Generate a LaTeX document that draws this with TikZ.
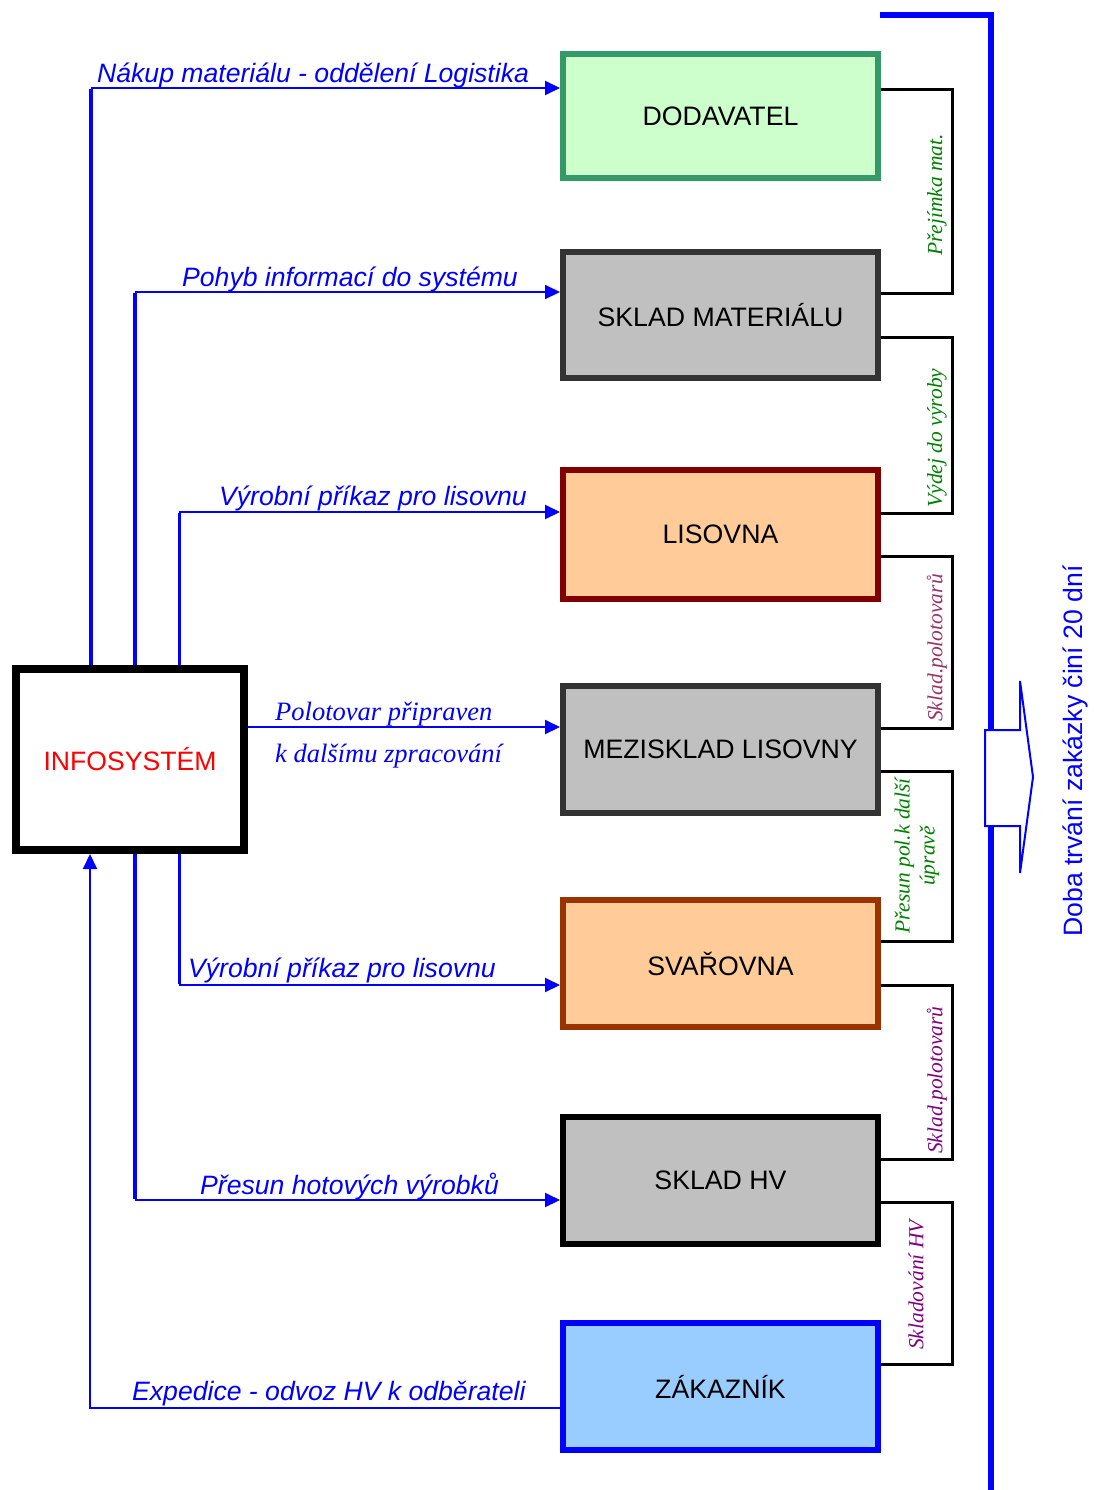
\documentclass[tikz,border=0pt]{standalone}
\usepackage{fontspec}
\setmainfont{Liberation Sans}
\newfontfamily\tms{Liberation Serif}
\usetikzlibrary{arrows.meta}
\definecolor{dgreen}{HTML}{339966}
\definecolor{lgreen}{HTML}{CCFFCC}
\definecolor{dgray}{HTML}{333333}
\definecolor{lgray}{HTML}{C0C0C0}
\definecolor{maroonb}{HTML}{800000}
\definecolor{peach}{HTML}{FFCC99}
\definecolor{brownb}{HTML}{993300}
\definecolor{lblue}{HTML}{99CCFF}
\definecolor{pblue}{HTML}{0000FF}
\definecolor{tgreen}{HTML}{008000}
\definecolor{plum}{HTML}{993366}
\definecolor{purp}{HTML}{800080}
\begin{document}
\begin{tikzpicture}[x=1pt,y=-1pt,
  box/.style={draw, line width=6pt, minimum width=315pt, inner sep=0pt,
    font=\fontsize{26.7}{32}\selectfont},
  vline/.style={draw=pblue, line width=4pt},
  harr/.style={draw=pblue, line width=2pt, -{Triangle[length=15pt,width=14pt]}},
  lab/.style={text=pblue, font=\fontsize{26.6}{32}\selectfont\itshape, inner sep=0pt, anchor=base west},
  tlab/.style={text=pblue, font=\fontsize{26.5}{32}\selectfont\tms\itshape, inner sep=0pt, anchor=base west},
  brk/.style={draw=black, line width=3pt, line join=miter},
  blab/.style={font=\fontsize{21.5}{25}\selectfont\tms\itshape, inner sep=0pt, rotate=90, align=center}
]
\useasboundingbox (0,0) rectangle (1093,1490);

% right column boxes
\node[box, draw=dgreen, fill=lgreen, minimum height=124pt] (dod) at (720.5,116) {DODAVATEL};
\node[box, draw=dgray, fill=lgray, minimum height=126pt] (sm) at (720.5,315) {SKLAD MATERIÁLU};
\node[box, draw=maroonb, fill=peach, minimum height=129pt] (lis) at (720.5,534.5) {LISOVNA};
\node[box, draw=dgray, fill=lgray, minimum height=127pt] (mez) at (720.5,749.5) {MEZISKLAD LISOVNY};
\node[box, draw=brownb, fill=peach, minimum height=127pt] (sva) at (720.5,963.5) {SVAŘOVNA};
\node[box, draw=black, fill=lgray, minimum height=127pt] (shv) at (720.5,1180.5) {SKLAD HV};
\node[box, draw=pblue, fill=lblue, minimum height=127pt] (zak) at (720.5,1386.5) {ZÁKAZNÍK};

% info system
\node[draw, line width=8pt, minimum width=228pt, minimum height=181pt, inner sep=0pt,
  text=red, font=\fontsize{26.6}{32}\selectfont] (info) at (130,759.5) {INFOSYSTÉM};

% corner coordinates
\coordinate (c1) at (91,88);
\coordinate (c2) at (135,292);
\coordinate (c3) at (179,512);
\coordinate (c4) at (248,727);
\coordinate (c5) at (179,985);
\coordinate (c6) at (135,1200);
\coordinate (c7) at (90,1408);

% connectors
\draw[vline] (info.north -| c1) -- ([yshift=-1pt]c1);
\draw[harr] (c1) -- (dod.west |- c1);
\draw[vline] (info.north -| c2) -- ([yshift=-1pt]c2);
\draw[harr] (c2) -- (sm.west |- c2);
\draw[vline, line width=3pt] (info.north -| c3) -- ([yshift=-1pt]c3);
\draw[harr] (c3) -- (lis.west |- c3);
\draw[harr] (info.east |- c4) -- (mez.west |- c4);
\draw[vline, line width=3pt] (info.south -| c5) -- ([yshift=1pt]c5);
\draw[harr] (c5) -- (sva.west |- c5);
\draw[vline] (info.south -| c6) -- ([yshift=1pt]c6);
\draw[harr] (c6) -- (shv.west |- c6);
\draw[harr] (zak.west |- c7) -| (info.south -| c7);

% labels
\node[lab] at (97,83) {Nákup materiálu - oddělení Logistika};
\node[lab] at (182,286) {Pohyb informací do systému};
\node[lab] at (219,505) {Výrobní příkaz pro lisovnu};
\node[tlab] at (275,720) {Polotovar připraven};
\node[tlab] at (275,762) {k dalšímu zpracování};
\node[lab] at (188,977) {Výrobní příkaz pro lisovnu};
\node[lab] at (200,1194) {Přesun hotových výrobků};
\node[lab] at (132,1400) {Expedice - odvoz HV k odběrateli};

% brackets
\draw[brk] (dod.east |- 0,90) -| (952,293) -- (sm.east |- 0,293);
\draw[brk] (sm.east |- 0,337) -| (952,513) -- (lis.east |- 0,513);
\draw[brk] (lis.east |- 0,556) -| (952,728) -- (mez.east |- 0,728);
\draw[brk] (mez.east |- 0,771) -| (952,941) -- (sva.east |- 0,941);
\draw[brk] (sva.east |- 0,985) -| (952,1159) -- (shv.east |- 0,1159);
\draw[brk] (shv.east |- 0,1202) -| (952,1364) -- (zak.east |- 0,1364);

\node[blab, text=tgreen] (b1) at (937,195) {Přejímka mat.};
\node[blab, text=tgreen] (b2) at (937,438) {Výdej do výroby};
\node[blab, text=plum] (b3) at (937,648) {Sklad.polotovarů};
\node[blab, text=tgreen] (b4) at (917,856) {Přesun pol.k další\\úpravě};
\node[blab, text=purp] (b5) at (937,1080) {Sklad.polotovarů};
\node[blab, text=purp] (b6) at (916,1285) {Skladování HV};

% time line
\draw[pblue, line width=5.5pt] (880,15) -- (994,15);
\draw[pblue, line width=6pt] (991,12) -- (991,1490);
\draw[pblue, line width=2pt, fill=white, line join=miter]
  (985,730) -- (1020,730) -- (1020,681) -- (1033,777) -- (1020,873) -- (1020,826) -- (985,826) -- cycle;
\node[text=pblue, rotate=90, inner sep=0pt, font=\fontsize{26.6}{32}\selectfont] (doba) at (1075,751) {Doba trvání zakázky činí 20 dní};
\end{tikzpicture}
\end{document}
